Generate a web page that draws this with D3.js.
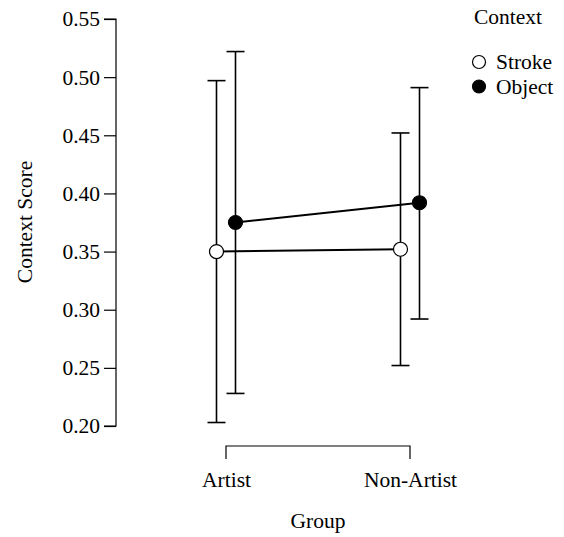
<!DOCTYPE html>
<html>
<head>
<meta charset="utf-8">
<script src="https://cdn.jsdelivr.net/npm/d3@7"></script>
<style>
  body { margin: 0; background: #fff; }
  text { font-family: "Liberation Serif", "Times New Roman", serif; fill: #000; }
</style>
</head>
<body>
<svg id="chart" width="564" height="537"></svg>
<script>
const groups = ["Artist", "Non-Artist"];
const contexts = ["Stroke", "Object"];
const strokeMean = [0.350, 0.352];
const strokeLow = [0.203, 0.252];
const strokeHigh = [0.497, 0.452];
const objectMean = [0.375, 0.392];
const objectLow = [0.228, 0.292];
const objectHigh = [0.522, 0.491];
const yTicks = [0.20, 0.25, 0.30, 0.35, 0.40, 0.45, 0.50, 0.55];

const series = [
  { name: "Stroke", mean: strokeMean, low: strokeLow, high: strokeHigh, fill: "#fff", dodge: -9.5 },
  { name: "Object", mean: objectMean, low: objectLow, high: objectHigh, fill: "#000", dodge: 9.5 }
];

const svg = d3.select("#chart");
const fs = 21.5;

const y = d3.scaleLinear().domain([0.20, 0.55]).range([426, 19]);
const x = d3.scalePoint().domain(groups).range([226, 410]);

// Y axis
const yAxis = svg.append("g").attr("transform", "translate(116,0)")
  .call(d3.axisLeft(y).tickValues(yTicks).tickFormat(d3.format(".2f")).tickSize(12).tickPadding(4));
yAxis.attr("font-size", fs).attr("font-family", "Liberation Serif");
yAxis.select(".domain").attr("stroke", "#000").attr("stroke-width", 1.2).attr("d", `M-12,${y(0.55)}H0V${y(0.20)}H-12`);
yAxis.selectAll(".tick line").attr("stroke", "#000").attr("stroke-width", 1.2);
yAxis.selectAll(".tick text").attr("font-size", fs).attr("font-family", "Liberation Serif");

// X axis (bracket)
const xAxis = svg.append("g").attr("transform", "translate(0,446)")
  .call(d3.axisBottom(x).tickSize(0).tickPadding(0));
xAxis.attr("font-size", fs).attr("font-family", "Liberation Serif");
xAxis.select(".domain").attr("stroke", "#000").attr("stroke-width", 1.2)
  .attr("d", `M${x(groups[0])},13V0H${x(groups[1])}V13`);
xAxis.selectAll(".tick line").remove();
xAxis.selectAll(".tick text").attr("font-size", fs).attr("font-family", "Liberation Serif")
  .attr("dy", null).attr("y", 41);

// Axis titles
svg.append("text").attr("x", 318).attr("y", 528).attr("text-anchor", "middle")
  .attr("font-size", fs).text("Group");
svg.append("text").attr("transform", `translate(32,222) rotate(-90)`).attr("text-anchor", "middle")
  .attr("font-size", fs).text("Context Score");

// Lines
const line = d3.line().x(d => d[0]).y(d => d[1]);
series.forEach(s => {
  const pts = groups.map((g, i) => [x(g) + s.dodge, y(s.mean[i])]);
  svg.append("path").attr("d", line(pts)).attr("fill", "none").attr("stroke", "#000").attr("stroke-width", 2);
});

// Error bars
series.forEach(s => {
  groups.forEach((g, i) => {
    const cx = x(g) + s.dodge;
    const eg = svg.append("g").attr("stroke", "#000").attr("stroke-width", 1.6);
    eg.append("line").attr("x1", cx).attr("x2", cx).attr("y1", y(s.low[i])).attr("y2", y(s.high[i]));
    eg.append("line").attr("x1", cx - 9).attr("x2", cx + 9).attr("y1", y(s.low[i])).attr("y2", y(s.low[i]));
    eg.append("line").attr("x1", cx - 9).attr("x2", cx + 9).attr("y1", y(s.high[i])).attr("y2", y(s.high[i]));
  });
});

// Points
series.forEach(s => {
  groups.forEach((g, i) => {
    svg.append("circle").attr("cx", x(g) + s.dodge).attr("cy", y(s.mean[i])).attr("r", 7)
      .attr("fill", s.fill).attr("stroke", "#000").attr("stroke-width", 1.2);
  });
});

// Legend
svg.append("text").attr("x", 474).attr("y", 24).attr("font-size", fs).text("Context");
series.forEach((s, i) => {
  const ly = 62 + i * 24.5;
  svg.append("circle").attr("cx", 479).attr("cy", ly).attr("r", 6.5)
    .attr("fill", s.fill).attr("stroke", "#000").attr("stroke-width", 1.2);
  svg.append("text").attr("x", 496).attr("y", ly + 7).attr("font-size", fs).text(contexts[i]);
});
</script>
</body>
</html>
